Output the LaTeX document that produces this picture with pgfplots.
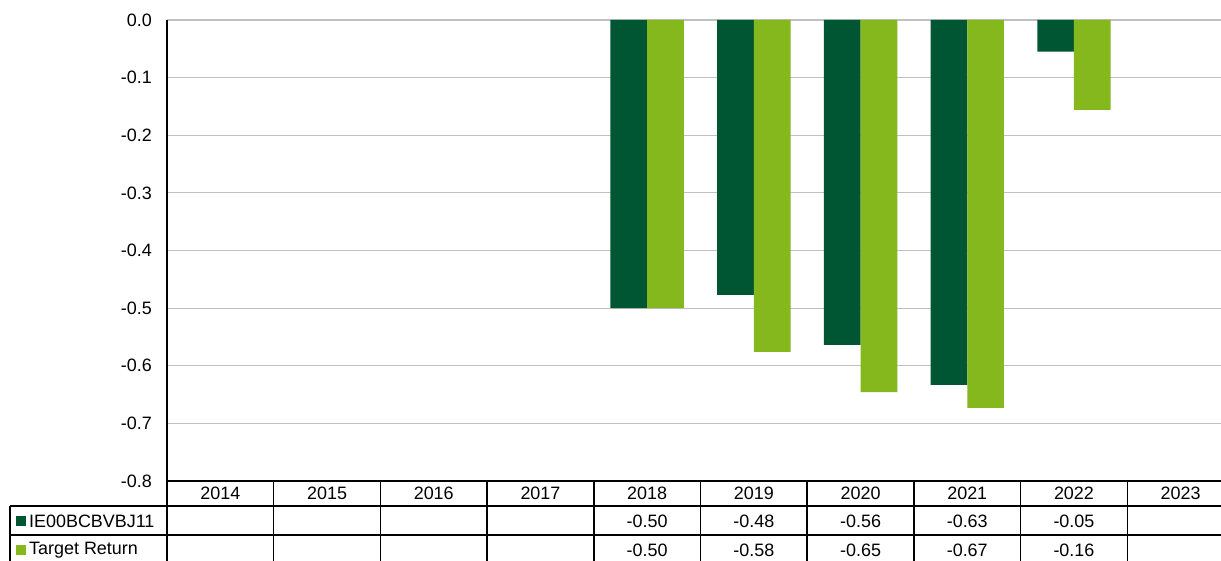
\documentclass[border=0pt]{standalone}
\usepackage{fontspec}
\setmainfont{Liberation Sans}
\usepackage{pgfplots}
\pgfplotsset{compat=1.18}
\definecolor{dkg}{RGB}{0,86,50}
\definecolor{ltg}{RGB}{132,184,28}
\definecolor{gridc}{RGB}{192,192,192}
\begin{document}
\fontsize{18}{21}\selectfont
\begin{tikzpicture}[x=1bp,y=1bp]
\path[use as bounding box] (0,0) rectangle (1221,561);
\begin{axis}[at={(167bp,80bp)}, anchor=south west, scale only axis,
  width=1067bp, height=461bp,
  xmin=-0.5, xmax=9.5, ymin=-0.8, ymax=0,
  separate axis lines,
  axis x line*=bottom, axis y line*=left,
  axis line style={-, black, line width=1.5bp},
  xtick=\empty,
  ytick={-0.8,-0.7,-0.6,-0.5,-0.4,-0.3,-0.2,-0.1,0},
  yticklabels={-0.8,-0.7,-0.6,-0.5,-0.4,-0.3,-0.2,-0.1,0.0},
  major tick length=0pt,
  yticklabel style={xshift=-9bp, font=\fontsize{18}{21}\selectfont},
  ymajorgrids, grid style={gridc, line width=1.2bp},
  ybar=0pt, bar width=36.7bp,
  clip=false,
]
\addplot[fill=dkg, draw=none] coordinates {(4,-0.500) (5,-0.477) (6,-0.564) (7,-0.633) (8,-0.055)};
\addplot[fill=ltg, draw=none] coordinates {(4,-0.500) (5,-0.576) (6,-0.646) (7,-0.673) (8,-0.156)};
\end{axis}
% table grid
\foreach \k in {0,...,10} {
  \pgfmathsetmacro{\xx}{167+106.7*\k}
  \draw[black, line width=1.5bp] (\xx,80) -- (\xx,0);
}
\draw[black, line width=1.5bp] (10,55) -- (1240,55);
\draw[black, line width=1.5bp] (10,26) -- (1240,26);
\draw[black, line width=1.5bp] (10,55) -- (10,0);
% years
\foreach \y [count=\i from 0] in {2014,2015,2016,2017,2018,2019,2020,2021,2022,2023} {
  \pgfmathsetmacro{\xx}{167+106.7*(\i+0.5)}
  \node[inner sep=0pt] at (\xx,67.5) {\y};
}
% values
\foreach \v [count=\i from 4] in {-0.50,-0.48,-0.56,-0.63,-0.05} {
  \pgfmathsetmacro{\xx}{167+106.7*(\i+0.5)}
  \node[inner sep=0pt] at (\xx,40) {\v};
}
\foreach \v [count=\i from 4] in {-0.50,-0.58,-0.65,-0.67,-0.16} {
  \pgfmathsetmacro{\xx}{167+106.7*(\i+0.5)}
  \node[inner sep=0pt] at (\xx,11) {\v};
}
% row labels
\fill[dkg] (16,35) rectangle (26,45);
\node[anchor=west, inner sep=0pt] at (29,40) {IE00BCBVBJ11};
\fill[ltg] (16,6) rectangle (26,16);
\node[anchor=west, inner sep=0pt] at (29,11) {Target Return};
\end{tikzpicture}
\end{document}
